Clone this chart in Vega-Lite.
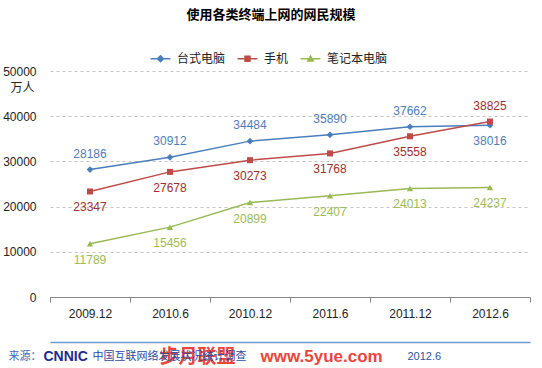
{
  "$schema": "https://vega.github.io/schema/vega-lite/v6.json",
  "width": 480,
  "height": 226,
  "autosize": {"type": "none"},
  "padding": {"left": 50, "top": 71, "right": 12, "bottom": 71},
  "background": "white",
  "title": {"text": "使用各类终端上网的网民规模", "font": "Noto Sans CJK SC", "fontSize": 13, "fontWeight": "bold", "color": "#000000", "anchor": "middle", "frame": "group", "dx": -19, "offset": 30},
  "data": {"values": [
    {"period": "2009.12", "series": "台式电脑", "value": 28186},
    {"period": "2010.6", "series": "台式电脑", "value": 30912},
    {"period": "2010.12", "series": "台式电脑", "value": 34484},
    {"period": "2011.6", "series": "台式电脑", "value": 35890},
    {"period": "2011.12", "series": "台式电脑", "value": 37662},
    {"period": "2012.6", "series": "台式电脑", "value": 38016},
    {"period": "2009.12", "series": "手机", "value": 23347},
    {"period": "2010.6", "series": "手机", "value": 27678},
    {"period": "2010.12", "series": "手机", "value": 30273},
    {"period": "2011.6", "series": "手机", "value": 31768},
    {"period": "2011.12", "series": "手机", "value": 35558},
    {"period": "2012.6", "series": "手机", "value": 38825},
    {"period": "2009.12", "series": "笔记本电脑", "value": 11789},
    {"period": "2010.6", "series": "笔记本电脑", "value": 15456},
    {"period": "2010.12", "series": "笔记本电脑", "value": 20899},
    {"period": "2011.6", "series": "笔记本电脑", "value": 22407},
    {"period": "2011.12", "series": "笔记本电脑", "value": 24013},
    {"period": "2012.6", "series": "笔记本电脑", "value": 24237}
  ]},
  "encoding": {
    "y": {"field": "value", "type": "quantitative", "scale": {"domain": [0, 50000]},
      "axis": {"title": "万人", "titleAngle": 0, "titleX": -28, "titleY": 16, "titleAlign": "center", "titleBaseline": "middle", "titleFontSize": 12, "titleFontWeight": "normal", "titleFont": "Noto Sans CJK SC", "titleColor": "#222222",
        "values": [0, 10000, 20000, 30000, 40000, 50000], "format": "d", "domain": false, "ticks": false, "labelPadding": 14, "labelFontSize": 12, "labelFont": "Liberation Sans", "labelColor": "#222222", "grid": true, "gridColor": "#C4C4C4", "gridDash": [3, 3], "gridWidth": 1}}
  },
  "layer": [
    {
      "mark": {"type": "line", "strokeWidth": 1.5},
      "encoding": {
        "x": {"field": "period", "type": "ordinal", "sort": ["2009.12", "2010.6", "2010.12", "2011.6", "2011.12", "2012.6"], "scale": {"type": "band", "paddingInner": 0, "paddingOuter": 0},
          "axis": {"orient": "bottom", "title": null, "labelAngle": 0, "labelFontSize": 12, "labelFont": "Liberation Sans", "labelColor": "#222222", "labelPadding": 6, "tickBand": "extent", "tickSize": 5, "tickColor": "#868686", "domainColor": "#868686", "grid": false}},
        "stroke": {"field": "series", "type": "nominal", "scale": {"domain": ["台式电脑", "手机", "笔记本电脑"], "range": ["#4A7EBB", "#BE4B48", "#98B954"]}}
      }
    },
    {
      "mark": {"type": "point", "filled": true, "opacity": 0},
      "encoding": {
        "x": {"field": "period", "type": "ordinal", "sort": ["2009.12", "2010.6", "2010.12", "2011.6", "2011.12", "2012.6"],
          "axis": {"orient": "bottom", "offset": 45, "title": "来源：", "titleX": -42, "titleY": 14, "titleAlign": "left", "titleBaseline": "middle", "titleAnchor": "start", "titleFont": "Noto Sans CJK SC", "titleFontSize": 11, "titleFontWeight": "normal", "titleColor": "#3B6CC0", "labels": false, "ticks": false, "grid": false, "domain": true, "domainColor": "#6A9AD0", "domainWidth": 1.5}},
        "fill": {"field": "series", "type": "nominal", "scale": {"domain": ["台式电脑", "手机", "笔记本电脑"], "range": ["#4A7EBB", "#BE4B48", "#98B954"]},
          "legend": {"orient": "none", "direction": "horizontal", "legendX": 104, "legendY": -19, "title": null, "symbolSize": 121, "symbolStrokeWidth": 1.5, "symbolOpacity": 1, "labelOffset": 10, "columnPadding": 8, "labelFontSize": 12, "labelFont": "Noto Sans CJK SC", "labelColor": "#222222", "padding": 0}},
        "stroke": {"field": "series", "type": "nominal",
          "legend": {"orient": "none", "direction": "horizontal", "legendX": 104, "legendY": -19, "title": null, "symbolSize": 121, "symbolStrokeWidth": 1.5, "symbolOpacity": 1, "labelOffset": 10, "columnPadding": 8, "labelFontSize": 12, "labelFont": "Noto Sans CJK SC", "labelColor": "#222222", "padding": 0}},
        "shape": {"field": "series", "type": "nominal", "scale": {"domain": ["台式电脑", "手机", "笔记本电脑"], "range": ["M-1.8,0H1.8M0,-0.55L0.55,0L0,0.55L-0.55,0Z", "M-1.8,0H1.8M-0.45,-0.45H0.45V0.45H-0.45Z", "M-1.8,0H1.8M0,-0.5L0.5,0.4H-0.5Z"]},
          "legend": {"orient": "none", "direction": "horizontal", "legendX": 104, "legendY": -19, "title": null, "symbolSize": 121, "symbolStrokeWidth": 1.5, "symbolOpacity": 1, "labelOffset": 10, "columnPadding": 8, "labelFontSize": 12, "labelFont": "Noto Sans CJK SC", "labelColor": "#222222", "padding": 0}}
      }
    },
    {
      "transform": [{"filter": "datum.series == '台式电脑'"}],
      "mark": {"type": "point", "filled": true, "opacity": 1, "size": 45, "shape": "diamond", "color": "#4A7EBB"},
      "encoding": {
        "x": {"field": "period", "type": "ordinal", "sort": ["2009.12", "2010.6", "2010.12", "2011.6", "2011.12", "2012.6"],
          "axis": {"orient": "bottom", "offset": 45, "title": "CNNIC", "titleX": -7, "titleY": 14, "titleAlign": "left", "titleBaseline": "middle", "titleAnchor": "start", "titleFont": "Liberation Sans", "titleFontSize": 14, "titleFontWeight": "bold", "titleColor": "#1F2A8C", "labels": false, "ticks": false, "grid": false, "domain": false}}
      }
    },
    {
      "transform": [{"filter": "datum.series == '手机'"}],
      "mark": {"type": "point", "filled": true, "opacity": 1, "size": 36, "shape": "square", "color": "#BE4B48"},
      "encoding": {
        "x": {"field": "period", "type": "ordinal", "sort": ["2009.12", "2010.6", "2010.12", "2011.6", "2011.12", "2012.6"],
          "axis": {"orient": "bottom", "offset": 45, "title": "步月联盟", "titleX": 109, "titleY": 14, "titleAlign": "left", "titleBaseline": "middle", "titleAnchor": "start", "titleFont": "Noto Sans CJK SC", "titleFontSize": 19, "titleFontWeight": "bold", "titleColor": "#E8463C", "labels": false, "ticks": false, "grid": false, "domain": false}}
      }
    },
    {
      "transform": [{"filter": "datum.series == '笔记本电脑'"}],
      "mark": {"type": "point", "filled": true, "opacity": 1, "size": 40, "shape": "triangle-up", "color": "#98B954"},
      "encoding": {
        "x": {"field": "period", "type": "ordinal", "sort": ["2009.12", "2010.6", "2010.12", "2011.6", "2011.12", "2012.6"],
          "axis": {"orient": "bottom", "offset": 45, "title": "www.5yue.com", "titleX": 210, "titleY": 14, "titleAlign": "left", "titleBaseline": "middle", "titleAnchor": "start", "titleFont": "Liberation Sans", "titleFontSize": 17, "titleFontWeight": "bold", "titleColor": "#E8463C", "labels": false, "ticks": false, "grid": false, "domain": false}}
      }
    },
    {
      "transform": [{"filter": "(datum.series == '台式电脑' && datum.period != '2012.6') || (datum.series == '手机' && datum.period == '2012.6')"}],
      "mark": {"type": "text", "dy": -16, "baseline": "middle", "align": "center", "font": "Liberation Sans", "fontSize": 12},
      "encoding": {
        "x": {"field": "period", "type": "ordinal", "sort": ["2009.12", "2010.6", "2010.12", "2011.6", "2011.12", "2012.6"],
          "axis": {"orient": "bottom", "offset": 45, "title": "中国互联网络发展状况统计调查", "titleX": 42, "titleY": 14, "titleAlign": "left", "titleBaseline": "middle", "titleAnchor": "start", "titleFont": "Noto Sans CJK SC", "titleFontSize": 11, "titleFontWeight": "normal", "titleColor": "#2B4C9C", "labels": false, "ticks": false, "grid": false, "domain": false}},
        "text": {"field": "value", "type": "quantitative", "format": "d"},
        "color": {"field": "series", "type": "nominal", "scale": {"domain": ["台式电脑", "手机", "笔记本电脑"], "range": ["#4F7DB8", "#A0302D", "#9BBB59"]}, "legend": null}
      }
    },
    {
      "transform": [{"filter": "!((datum.series == '台式电脑' && datum.period != '2012.6') || (datum.series == '手机' && datum.period == '2012.6'))"}],
      "mark": {"type": "text", "dy": 16, "baseline": "middle", "align": "center", "font": "Liberation Sans", "fontSize": 12},
      "encoding": {
        "x": {"field": "period", "type": "ordinal", "sort": ["2009.12", "2010.6", "2010.12", "2011.6", "2011.12", "2012.6"],
          "axis": {"orient": "bottom", "offset": 45, "title": "2012.6", "titleX": 357, "titleY": 14, "titleAlign": "left", "titleBaseline": "middle", "titleAnchor": "start", "titleFont": "Liberation Sans", "titleFontSize": 11, "titleFontWeight": "normal", "titleColor": "#2F5597", "labels": false, "ticks": false, "grid": false, "domain": false}},
        "text": {"field": "value", "type": "quantitative", "format": "d"},
        "color": {"field": "series", "type": "nominal", "legend": null}
      }
    }
  ],
  "resolve": {"axis": {"x": "independent"}},
  "config": {"view": {"stroke": null}}
}
